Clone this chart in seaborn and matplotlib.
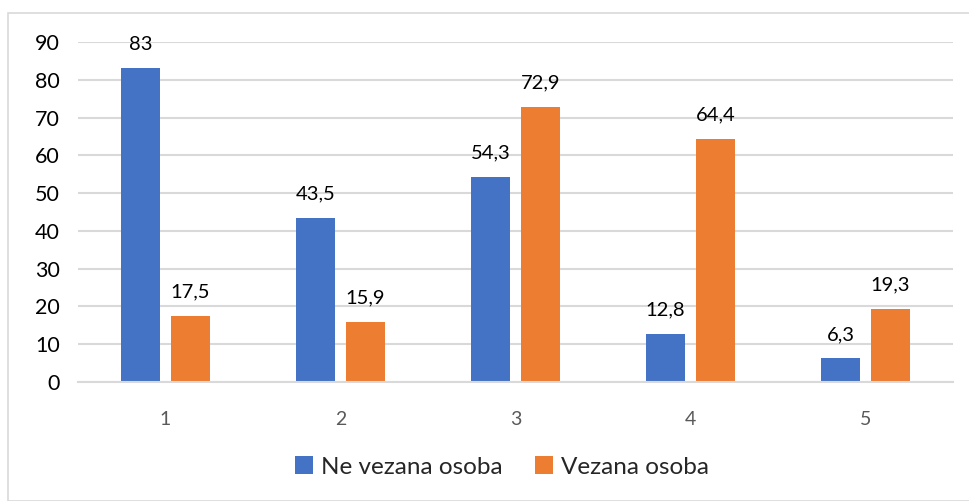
import matplotlib
matplotlib.use("Agg")
import matplotlib.pyplot as plt
import seaborn as sns
import pandas as pd
from matplotlib.patches import Rectangle

categories = ["1", "2", "3", "4", "5"]
series_names = ["Ne vezana osoba", "Vezana osoba"]
ne_vezana = [83, 43.5, 54.3, 12.8, 6.3]
vezana = [17.5, 15.9, 72.9, 64.4, 19.3]
yticks = [0, 10, 20, 30, 40, 50, 60, 70, 80, 90]
colors = ["#4472C4", "#ED7D31"]

df = pd.DataFrame({
    "cat": categories * 2,
    "series": [series_names[0]] * 5 + [series_names[1]] * 5,
    "value": ne_vezana + vezana,
})

sns.set_theme(style="white")
plt.rcParams["font.family"] = ["Lato", "DejaVu Sans"]

fig = plt.figure(figsize=(9.69, 5.01), dpi=100)
ax = fig.add_axes([78 / 969, 1 - 382 / 501, 875 / 969, 340 / 501])

sns.barplot(data=df, x="cat", y="value", hue="series", palette=colors,
            width=0.571, gap=0.22, ax=ax, saturation=1, legend=True,
            linewidth=0)

ax.set_ylim(0, 90)
ax.set_xlim(-0.5, 4.5)
ax.set_yticks(yticks)
ax.yaxis.grid(True, color="#D9D9D9", linewidth=1.5)
ax.set_axisbelow(True)
for s in ["top", "right", "left"]:
    ax.spines[s].set_visible(False)
ax.spines["bottom"].set_color("#D9D9D9")
ax.spines["bottom"].set_linewidth(1.5)
ax.tick_params(axis="both", length=0)
ax.tick_params(axis="y", labelsize=15.5, labelcolor="black", pad=13)
ax.tick_params(axis="x", labelsize=14, labelcolor="#595959", pad=21)
ax.set_xlabel("")
ax.set_ylabel("")

for cont in ax.containers:
    labels = [f"{v:g}".replace(".", ",") for v in cont.datavalues]
    ax.bar_label(cont, labels=labels, padding=11, fontsize=14.5, color="black")

handles, labs = ax.get_legend_handles_labels()
ax.legend(handles, labs, loc="center", bbox_to_anchor=(502 / 969, 1 - 467 / 501),
          bbox_transform=fig.transFigure, ncol=2, frameon=False, fontsize=17.5,
          handlelength=0.75, handleheight=0.75, handletextpad=0.35, columnspacing=1.3)

fig.patches.append(Rectangle((8 / 969, 0), 1, 1 - 13 / 501, transform=fig.transFigure,
                             fill=False, edgecolor="#D9D9D9", linewidth=1.2))

fig.savefig("out.png", dpi=100)
